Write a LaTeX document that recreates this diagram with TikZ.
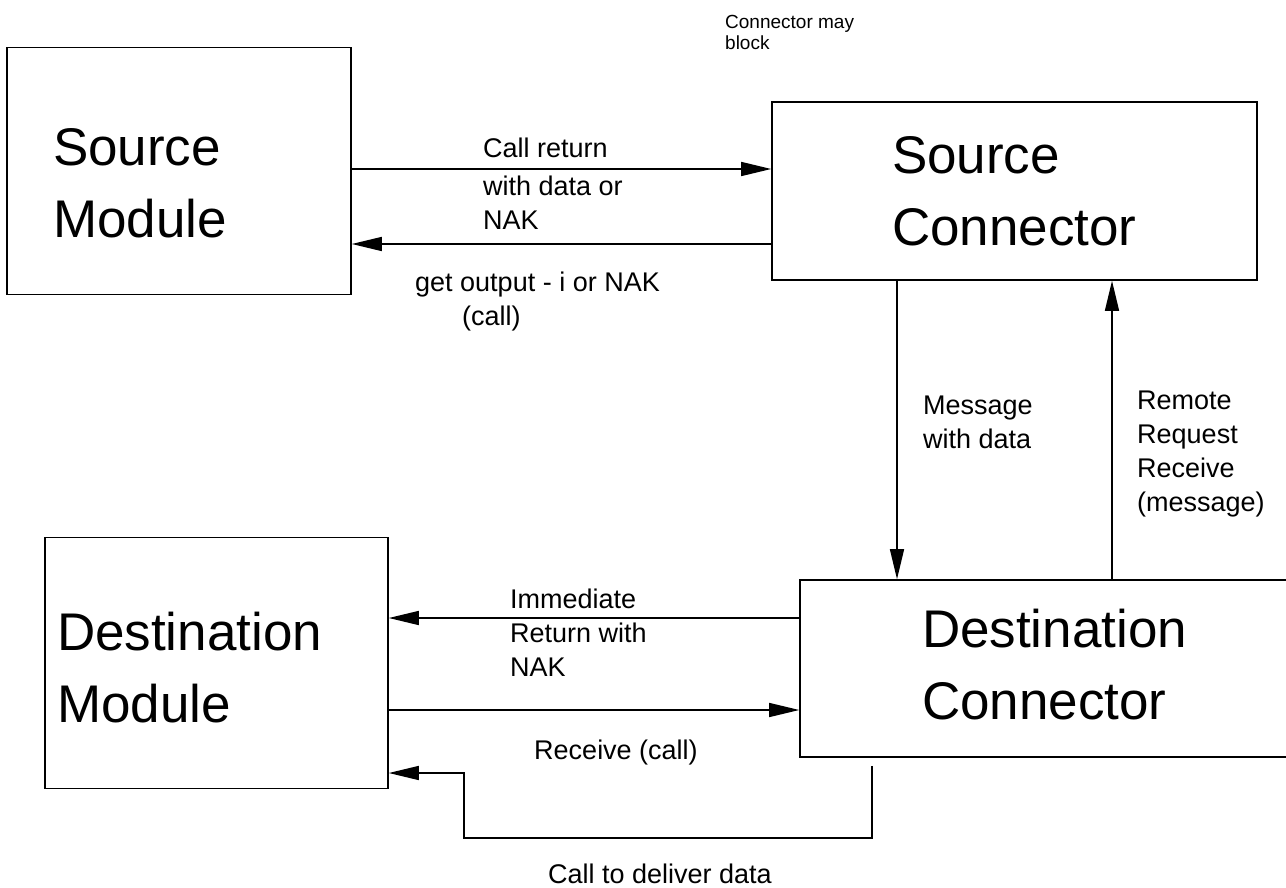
\documentclass[tikz,border=0pt]{standalone}
\usepackage{fontspec}
\setmainfont{Liberation Sans}
\usetikzlibrary{arrows.meta}
\newcommand{\dgbig}{\fontsize{53}{72}\selectfont}
\newcommand{\dgmid}{\fontsize{27}{34}\selectfont}
\newcommand{\dgsmall}{\fontsize{19}{21}\selectfont}
\begin{document}
\begin{tikzpicture}[x=1pt,y=-1pt,
  box/.style={draw, line width=1.6pt, inner ysep=0pt, align=left, font=\dgbig},
  arr/.style={line width=1.5pt, -{Triangle[length=30pt,width=14pt]}},
  lbl/.style={font=\dgmid, align=left, inner sep=0pt}
]
\useasboundingbox (0,0) rectangle (1286,888);
\clip (0,0) rectangle (1286,888);

% boxes
\node[box, inner xsep=46pt, text width=252pt, minimum height=247pt] (sm) at (179,171) {\rule{0pt}{61pt}Source\\Module};
\node[box, inner xsep=120pt, text width=245pt, minimum height=178pt] (sc) at (1014.5,191) {Source\\Connector};
\node[box, inner xsep=12pt, text width=319pt, minimum height=251pt] (dm) at (216.5,663) {\rule{0pt}{47pt}Destination\\Module};
\node[box, inner xsep=122pt, text width=276pt, minimum height=177pt] (dc) at (1060,668.5) {Destination\\Connector\rule[-8pt]{0pt}{8pt}};

% connectors
\coordinate (a1) at ([yshift=2pt]sm.east);
\draw[arr] (a1) -- (a1 -| sc.west);
\coordinate (a2) at ([yshift=-53pt]sc.west);
\draw[arr] (a2) -- (a2 -| sm.east);
\coordinate (a3) at ([xshift=-117.5pt]sc.south);
\draw[arr] (a3) -- (a3 |- dc.north);
\coordinate (a4) at ([xshift=52pt]dc.north);
\draw[arr] (a4) -- (a4 |- sc.south);
\coordinate (a5) at ([yshift=50.5pt]dc.west);
\draw[arr] (a5) -- (a5 -| dm.east);
\coordinate (a6) at ([yshift=-47pt]dm.east);
\draw[arr] (a6) -- (a6 -| dc.west);
\coordinate (b0) at ([xshift=-188pt,yshift=-8pt]dc.south);
\coordinate (b2) at ([yshift=-110pt]dm.east);
\draw[arr] (b0) -- ++(0,72) -| ([xshift=75pt]b2) -- (b2);

% labels
\node[lbl, anchor=west] (l1) at (483,184) {Call return\\[4pt]with data or\\NAK};
\node[lbl, anchor=west] (l2) at (415,302) {get output - i or NAK\\\hspace*{47pt}(call)};
\node[lbl, anchor=west] (l3) at (923,422) {Message\\with data};
\node[lbl, anchor=west] (l4) at (1137,454) {Remote\\Request\\Receive\\(message)};
\node[lbl, anchor=west] (l5) at (510,633) {Immediate\\Return with\\NAK};
\node[lbl] (l6) at (616,753) {Receive (call)};
\node[lbl] (l7) at (660,874) {Call to deliver data};
\node[lbl, font=\dgsmall, anchor=west] (l8) at (725,32) {Connector may\\block};
\end{tikzpicture}
\end{document}
